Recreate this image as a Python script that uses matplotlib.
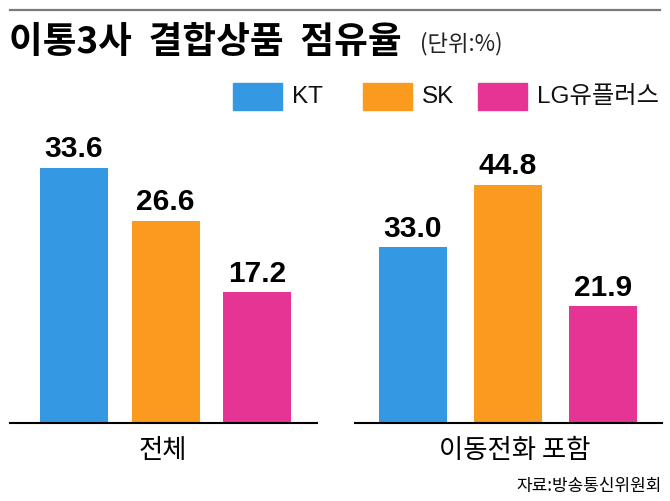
import matplotlib
matplotlib.use("Agg")
import matplotlib.pyplot as plt
from matplotlib.patches import Rectangle
from matplotlib import font_manager

# data
companies = ["KT", "SK", "LG유플러스"]
groups = ["전체", "이동전화 포함"]
share_total = [33.6, 26.6, 17.2]
share_mobile = [33.0, 44.8, 21.9]
colors = ["#3598e3", "#fa9a1e", "#e63495"]

W, H = 670, 501

names = {f.name for f in font_manager.fontManager.ttflist}
latin = "Liberation Sans Narrow" if "Liberation Sans Narrow" in names else "Liberation Sans"
fam = [latin, "Noto Sans CJK KR", "DejaVu Sans"]
plt.rcParams["font.family"] = fam


def fx(x):
    return x / W


def fy(y):
    return 1 - y / H


fig = plt.figure(figsize=(W / 100, H / 100), dpi=100)

# top rule
fig.add_artist(plt.Line2D([fx(10), fx(660)], [fy(10), fy(10)], color="#7a7a7a", lw=1.6))

fig.text(fx(9), fy(42), "이통3사  결합상품  점유율", fontsize=26.4, fontweight="bold",
         family=["Noto Sans CJK KR"], va="center", ha="left")
fig.text(fx(420), fy(44), "(단위:%)", fontsize=16, family=["Noto Sans CJK KR"],
         va="center", ha="left", color="#222222")

# legend
leg_x = [233, 363, 478]
for lx, name, c in zip(leg_x, companies, colors):
    fig.add_artist(Rectangle((fx(lx), fy(110)), 49 / W, 27 / H, color=c,
                             transform=fig.transFigure))
    fig.text(fx(lx + 59), fy(97), name, fontsize=17.5, va="center", ha="left",
             color="#111111")

# (values, left px, right px, first bar centre px, bar step px, px per unit, label centre px)
panels = [
    (share_total, 10, 317, 74, 91.7, 7.6, 163),
    (share_mobile, 355, 662, 413, 95.0, 5.32, 515),
]
top_px, base_px = 120, 423
for (vals, x0, x1, c0, step, scale, lab), gname in zip(panels, groups):
    ax = fig.add_axes([fx(x0), fy(base_px), (x1 - x0) / W, (base_px - top_px) / H])
    pos = list(range(len(vals)))
    ax.bar(pos, vals, width=68 / step, color=colors)
    ax.set_xlim(-(c0 - x0) / step, (x1 - c0) / step)
    ax.set_ylim(0, (base_px - top_px) / scale)
    for p, v in zip(pos, vals):
        ax.annotate(f"{v:.1f}", (p, v), xytext=(0, 7.5), textcoords="offset points",
                    ha="center", va="baseline", fontsize=21.5, fontweight="bold")
    for s in ["top", "left", "right"]:
        ax.spines[s].set_visible(False)
    ax.spines["bottom"].set_linewidth(1.5)
    ax.spines["bottom"].set_color("black")
    ax.set_xticks([])
    ax.set_yticks([])
    ax.patch.set_alpha(0)
    fig.text(fx(lab), fy(451), gname, ha="center", va="center", fontsize=19,
             family=["Noto Sans CJK KR"])

fig.text(fx(662), fy(486), "자료:방송통신위원회", fontsize=12.2, ha="right", va="center",
         family=["Noto Sans CJK KR"])

fig.savefig("out.png", dpi=100)
